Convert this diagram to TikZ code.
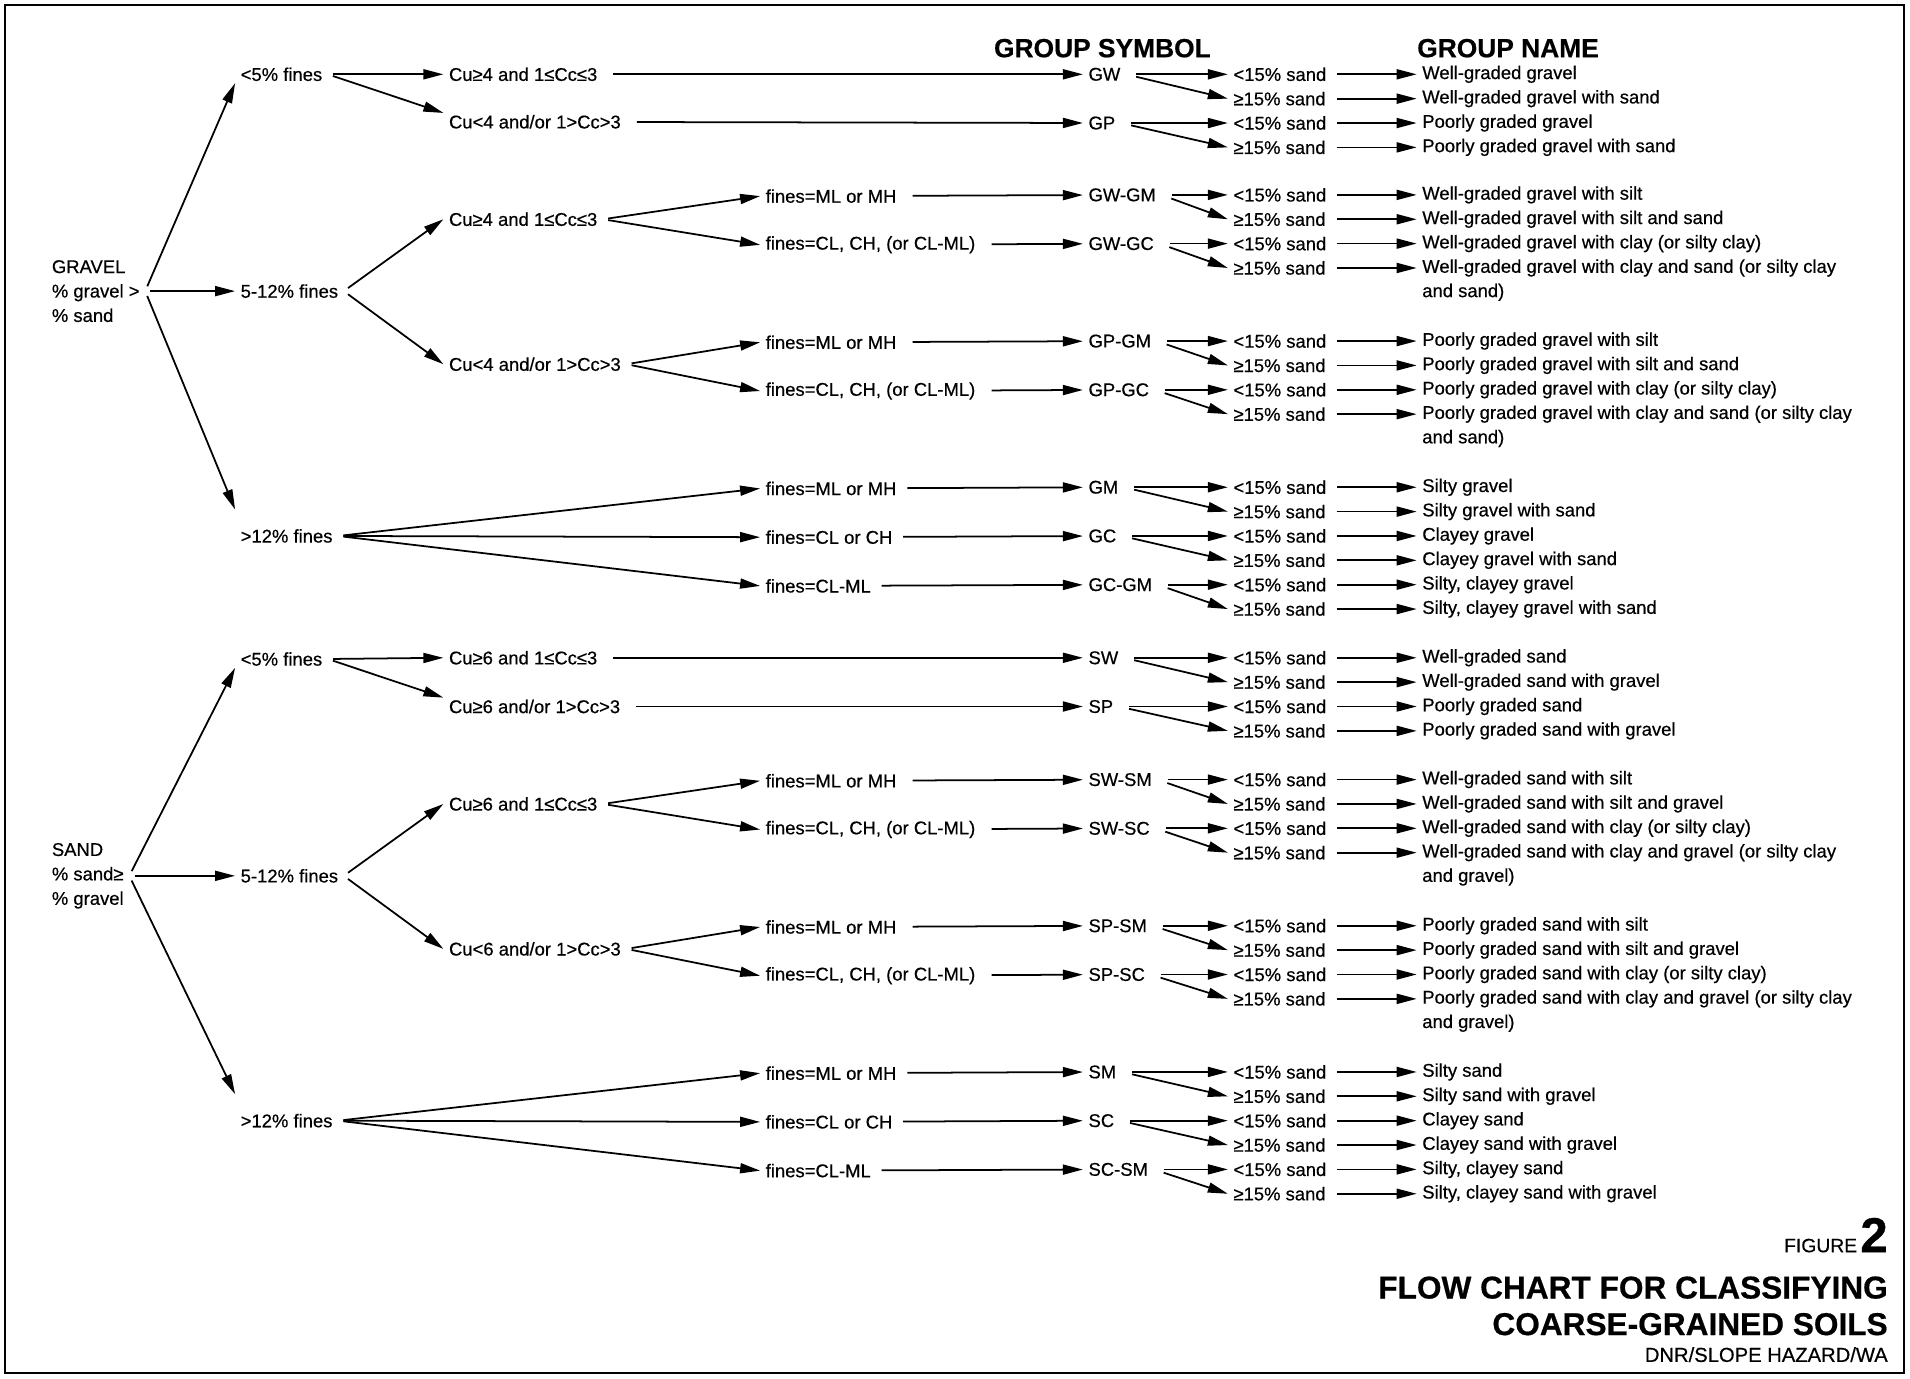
\documentclass[tikz,border=0pt]{standalone}
\usepackage{fontspec}
\setmainfont{Liberation Sans}[FakeBold=0.5]
\usetikzlibrary{arrows.meta}

\begin{document}
\begin{tikzpicture}[
    x=0.024362cm, y=-0.024362cm,
    txt/.style={font=\fontsize{10.5}{13.9}\selectfont, anchor=west, inner xsep=3pt, inner ysep=1pt},
    head/.style={font=\fontsize{15}{18}\selectfont\bfseries, anchor=base, inner sep=0pt},
    arr/.style={-{Triangle[length=4mm, width=2mm]}, line width=1pt, shorten <=3pt},
    fan/.style={arr, shorten <=6pt}
]
    \useasboundingbox (0,0) rectangle (1568,1132);
    % frame
    \draw[line width=1pt] (4,4) rectangle (1563,1127);

    % headings
    \node[head] (hsym) at (905,47) {GROUP SYMBOL};
    \node[head] (hname) at (1238,47) {GROUP NAME};

    % gravel branch
    \node[txt, align=left] (gravel) at (38,239) {GRAVEL\\\% gravel >\\\% sand};
    \node[txt] (g5) at (193,61) {<5\% fines};
    \node[txt] (g512) at (193,239) {5-12\% fines};
    \node[txt] (g12) at (193,440) {>12\% fines};
    \node[txt] (g5a) at (364,61) {Cu≥4 and 1≤Cc≤3};
    \node[txt] (g5b) at (364,100) {Cu<4 and/or 1>Cc>3};
    \node[txt] (g512a) at (364,180) {Cu≥4 and 1≤Cc≤3};
    \node[txt] (g512b) at (364,299) {Cu<4 and/or 1>Cc>3};
    \node[txt] (gw-ml) at (624,161) {fines=ML or MH};
    \node[txt] (gw-cl) at (624,201) {fines=CL, CH, (or CL-ML)};
    \node[txt] (gp-ml) at (624,281) {fines=ML or MH};
    \node[txt] (gp-cl) at (624,321) {fines=CL, CH, (or CL-ML)};
    \node[txt] (g12-ml) at (624,401) {fines=ML or MH};
    \node[txt] (g12-cl) at (624,441) {fines=CL or CH};
    \node[txt] (g12-clml) at (624,481) {fines=CL-ML};

    % sand branch
    \node[txt, align=left] (sand) at (38,719) {SAND\\\% sand≥\\\% gravel};
    \node[txt] (s5) at (193,541) {<5\% fines};
    \node[txt] (s512) at (193,719) {5-12\% fines};
    \node[txt] (s12) at (193,920) {>12\% fines};
    \node[txt] (s5a) at (364,540) {Cu≥6 and 1≤Cc≤3};
    \node[txt] (s5b) at (364,580) {Cu≥6 and/or 1>Cc>3};
    \node[txt] (s512a) at (364,660) {Cu≥6 and 1≤Cc≤3};
    \node[txt] (s512b) at (364,779) {Cu<6 and/or 1>Cc>3};
    \node[txt] (sw-ml) at (624,641) {fines=ML or MH};
    \node[txt] (sw-cl) at (624,681) {fines=CL, CH, (or CL-ML)};
    \node[txt] (sp-ml) at (624,761) {fines=ML or MH};
    \node[txt] (sp-cl) at (624,801) {fines=CL, CH, (or CL-ML)};
    \node[txt] (s12-ml) at (624,881) {fines=ML or MH};
    \node[txt] (s12-cl) at (624,921) {fines=CL or CH};
    \node[txt] (s12-clml) at (624,961) {fines=CL-ML};

    % group symbols, sand content and group names
    \foreach \id/\sym/\y/\na/\nb in {
        gw/GW/61/{Well-graded gravel}/{Well-graded gravel with sand},
        gp/GP/101/{Poorly graded gravel}/{Poorly graded gravel with sand},
        gwgm/GW-GM/160/{Well-graded gravel with silt}/{Well-graded gravel with silt and sand},
        gwgc/GW-GC/200/{Well-graded gravel with clay (or silty clay)}/{Well-graded gravel with clay and sand (or silty clay},
        gpgm/GP-GM/280/{Poorly graded gravel with silt}/{Poorly graded gravel with silt and sand},
        gpgc/GP-GC/320/{Poorly graded gravel with clay (or silty clay)}/{Poorly graded gravel with clay and sand (or silty clay},
        gm/GM/400/{Silty gravel}/{Silty gravel with sand},
        gc/GC/440/{Clayey gravel}/{Clayey gravel with sand},
        gcgm/GC-GM/480/{Silty, clayey gravel}/{Silty, clayey gravel with sand},
        sw/SW/540/{Well-graded sand}/{Well-graded sand with gravel},
        sp/SP/580/{Poorly graded sand}/{Poorly graded sand with gravel},
        swsm/SW-SM/640/{Well-graded sand with silt}/{Well-graded sand with silt and gravel},
        swsc/SW-SC/680/{Well-graded sand with clay (or silty clay)}/{Well-graded sand with clay and gravel (or silty clay},
        spsm/SP-SM/760/{Poorly graded sand with silt}/{Poorly graded sand with silt and gravel},
        spsc/SP-SC/800/{Poorly graded sand with clay (or silty clay)}/{Poorly graded sand with clay and gravel (or silty clay},
        sm/SM/880/{Silty sand}/{Silty sand with gravel},
        sc/SC/920/{Clayey sand}/{Clayey sand with gravel},
        scsm/SC-SM/960/{Silty, clayey sand}/{Silty, clayey sand with gravel}}{
        \node[txt] (\id) at (889,\y) {\sym};
        \node[txt] (\id-lt) at (1008,\y) {<15\% sand};
        \node[txt] (\id-ge) at (1008,\y+20) {≥15\% sand};
        \node[txt] (\id-n1) at (1163,\y) {\na};
        \node[txt] (\id-n2) at (1163,\y+20) {\nb};
        \draw[fan] (\id.east) -- (\id-lt.west);
        \draw[fan] (\id.east) -- (\id-ge.west);
        \draw[arr] (\id-lt) -- (\id-n1);
        \draw[arr] (\id-ge) -- (\id-n2);
    }
    \node[txt] (gwgc-n3) at (1163,240) {and sand)};
    \node[txt] (gpgc-n3) at (1163,360) {and sand)};
    \node[txt] (swsc-n3) at (1163,720) {and gravel)};
    \node[txt] (spsc-n3) at (1163,840) {and gravel)};

    % gravel connectors
    \draw[arr] (gravel.east) -- (g5.south west);
    \draw[arr] (gravel.east) -- (g512.west);
    \draw[arr] (gravel.east) -- ([yshift=10pt]g12.north west);
    \draw[arr] (g5.east) -- (g5a.west);
    \draw[arr] (g5.east) -- (g5b.north west);
    \draw[arr] (g512.east) -- (g512a.west);
    \draw[arr] (g512.east) -- (g512b.west);
    \draw[arr] (g512a.east) -- (gw-ml.west);
    \draw[arr] (g512a.east) -- (gw-cl.west);
    \draw[arr] (g512b.east) -- (gp-ml.west);
    \draw[arr] (g512b.east) -- (gp-cl.west);
    \draw[arr] (g12.east) -- (g12-ml.west);
    \draw[arr] (g12.east) -- (g12-cl.west);
    \draw[arr] (g12.east) -- (g12-clml.west);
    \draw[fan] (g5a) -- (gw);
    \draw[fan] (g5b) -- (gp);
    \draw[fan] (gw-ml) -- (gwgm);
    \draw[fan] (gw-cl) -- (gwgc);
    \draw[fan] (gp-ml) -- (gpgm);
    \draw[fan] (gp-cl) -- (gpgc);
    \draw[arr] (g12-ml) -- (gm);
    \draw[arr] (g12-cl) -- (gc);
    \draw[arr] (g12-clml) -- (gcgm);

    % sand connectors
    \draw[arr] (sand.east) -- (s5.south west);
    \draw[arr] (sand.east) -- (s512.west);
    \draw[arr] (sand.east) -- ([yshift=10pt]s12.north west);
    \draw[arr] (s5.east) -- (s5a.west);
    \draw[arr] (s5.east) -- (s5b.north west);
    \draw[arr] (s512.east) -- (s512a.west);
    \draw[arr] (s512.east) -- (s512b.west);
    \draw[arr] (s512a.east) -- (sw-ml.west);
    \draw[arr] (s512a.east) -- (sw-cl.west);
    \draw[arr] (s512b.east) -- (sp-ml.west);
    \draw[arr] (s512b.east) -- (sp-cl.west);
    \draw[arr] (s12.east) -- (s12-ml.west);
    \draw[arr] (s12.east) -- (s12-cl.west);
    \draw[arr] (s12.east) -- (s12-clml.west);
    \draw[fan] (s5a) -- (sw);
    \draw[fan] (s5b) -- (sp);
    \draw[fan] (sw-ml) -- (swsm);
    \draw[fan] (sw-cl) -- (swsc);
    \draw[fan] (sp-ml) -- (spsm);
    \draw[fan] (sp-cl) -- (spsc);
    \draw[arr] (s12-ml) -- (sm);
    \draw[arr] (s12-cl) -- (sc);
    \draw[arr] (s12-clml) -- (scsm);

    % title block
    \node[anchor=base east, inner sep=0pt] (fignum) at (1550,1028)
        {\fontsize{11}{13}\selectfont FIGURE\,{\fontsize{28}{30}\selectfont\bfseries 2}};
    \node[anchor=base east, inner sep=0pt, font=\fontsize{18}{20}\selectfont\bfseries] (title1) at (1550,1066) {FLOW CHART FOR CLASSIFYING};
    \node[anchor=base east, inner sep=0pt, font=\fontsize{18}{20}\selectfont\bfseries] (title2) at (1550,1096) {COARSE-GRAINED SOILS};
    \node[anchor=base east, inner sep=0pt, font=\fontsize{11.5}{13}\selectfont] (credit) at (1550,1118) {DNR/SLOPE HAZARD/WA};
\end{tikzpicture}
\end{document}
